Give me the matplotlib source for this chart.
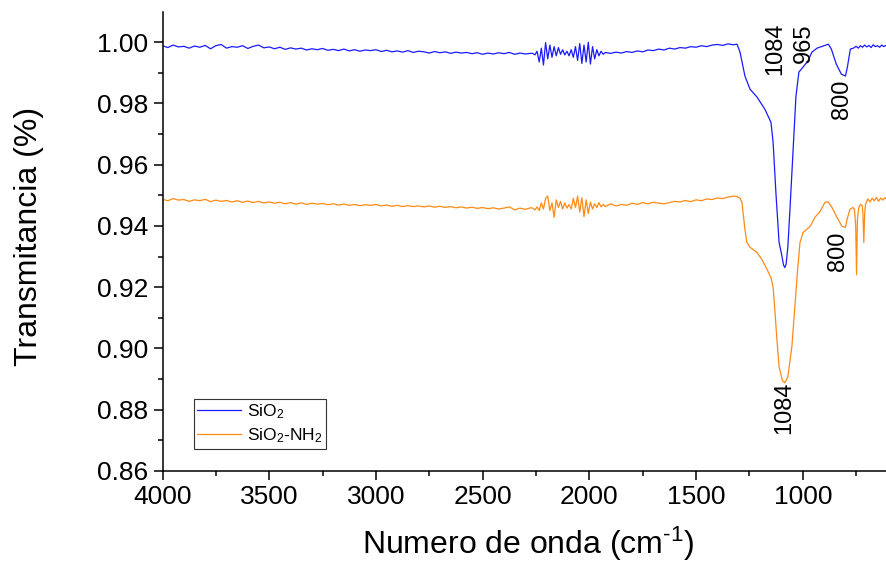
import numpy as np
import matplotlib
matplotlib.use("Agg")
import matplotlib.pyplot as plt
from matplotlib.ticker import MultipleLocator, FormatStrFormatter

plt.rcParams['font.family'] = ['Liberation Sans', 'DejaVu Sans']
plt.rcParams['mathtext.fontset'] = 'custom'
plt.rcParams['mathtext.rm'] = 'Liberation Sans'
plt.rcParams['mathtext.it'] = 'Liberation Sans:italic'
plt.rcParams['mathtext.default'] = 'regular'

# wavenumber grid of the flat part of the spectra (cm-1)
wn_high = np.arange(4000, 2274, -25)
wn_noisy = np.arange(2265, 1924, -10)
wn_mid = np.arange(1900, 1324, -25)

# Si-O band region, both samples
wn_band_sio2 = [1308, 1294, 1280, 1271, 1247, 1214, 1177, 1149, 1139, 1126, 1111,
                1100, 1090, 1084, 1078, 1070, 1060, 1046, 1032, 1018, 999, 976,
                957, 933, 905, 880, 866, 843, 819, 800, 791, 777, 763, 750, 740,
                730, 720, 710, 700, 690, 680, 670, 660, 650, 640, 630, 620, 610, 600]
wn_band_nh2 = [1308, 1294, 1285, 1271, 1262, 1247, 1214, 1191, 1167, 1149, 1139,
               1130, 1121, 1111, 1095, 1084, 1070, 1051, 1037, 1023, 1013, 999,
               966, 943, 919, 896, 882, 863, 840, 816, 800, 793, 779, 765, 758,
               752, 748, 744, 738, 730, 722, 718, 714, 710, 706, 695, 685, 675,
               665, 655, 645, 635, 625, 615, 605, 600]

# transmittance, SiO2
sio2_high = [0.9988, 0.9982, 0.9990, 0.9984, 0.9986, 0.9980, 0.9987, 0.9983, 0.9989, 0.9978,
             0.9988, 0.9992, 0.9980, 0.9985, 0.9983, 0.9988, 0.9979, 0.9986, 0.9990, 0.9981,
             0.9984, 0.9978, 0.9983, 0.9976, 0.9981, 0.9977, 0.9980, 0.9974, 0.9978, 0.9975,
             0.9979, 0.9973, 0.9976, 0.9972, 0.9977, 0.9971, 0.9975, 0.9970, 0.9974, 0.9972,
             0.9975, 0.9969, 0.9973, 0.9968, 0.9971, 0.9967, 0.9972, 0.9966, 0.9970, 0.9968,
             0.9964, 0.9969, 0.9965, 0.9968, 0.9963, 0.9967, 0.9964, 0.9966, 0.9962, 0.9965,
             0.9960, 0.9964, 0.9961, 0.9965, 0.9962, 0.9966, 0.9960, 0.9964, 0.9961, 0.9963]
sio2_noisy = [0.9963, 0.9958, 0.9970, 0.9935, 0.9980, 0.9925, 0.9998, 0.9945, 0.9990, 0.9950,
              0.9985, 0.9955, 0.9982, 0.9960, 0.9975, 0.9958, 0.9970, 0.9955, 0.9975, 0.9950,
              0.9985, 0.9940, 0.9995, 0.9930, 0.9990, 0.9935, 0.9999, 0.9928, 0.9985, 0.9945,
              0.9975, 0.9955, 0.9970, 0.9960, 0.9966]
sio2_mid = [0.9963, 0.9967, 0.9964, 0.9969, 0.9966, 0.9971, 0.9968, 0.9974, 0.9972, 0.9977,
            0.9974, 0.9980, 0.9977, 0.9982, 0.9980, 0.9985, 0.9983, 0.9988, 0.9985, 0.9990,
            0.9992, 0.9989, 0.9994, 0.9991]
sio2_band = [0.9993, 0.9967, 0.9920, 0.9889, 0.9846, 0.9820, 0.9780, 0.9738, 0.9673, 0.9510,
             0.9346, 0.9310, 0.9272, 0.9264, 0.9275, 0.9330, 0.9454, 0.9640, 0.9823, 0.9902,
             0.9918, 0.9938, 0.9967, 0.9980, 0.9987, 0.9993, 0.9977, 0.9928, 0.9895, 0.9889,
             0.9918, 0.9977, 0.9980, 0.9986, 0.9980, 0.9988, 0.9983, 0.9990, 0.9984, 0.9989,
             0.9982, 0.9991, 0.9985, 0.9988, 0.9983, 0.9990, 0.9985, 0.9989, 0.9986]

# transmittance, SiO2-NH2
nh2_high = [0.9487, 0.9482, 0.9489, 0.9484, 0.9486, 0.9480, 0.9485, 0.9482, 0.9487, 0.9479,
            0.9484, 0.9480, 0.9483, 0.9478, 0.9482, 0.9477, 0.9481, 0.9476, 0.9480, 0.9475,
            0.9478, 0.9474, 0.9477, 0.9472, 0.9476, 0.9471, 0.9475, 0.9470, 0.9474, 0.9471,
            0.9473, 0.9469, 0.9472, 0.9468, 0.9471, 0.9467, 0.9470, 0.9466, 0.9469, 0.9467,
            0.9470, 0.9465, 0.9468, 0.9464, 0.9467, 0.9463, 0.9466, 0.9463, 0.9465, 0.9462,
            0.9465, 0.9461, 0.9464, 0.9460, 0.9463, 0.9459, 0.9462, 0.9458, 0.9461, 0.9457,
            0.9460, 0.9456, 0.9459, 0.9455, 0.9458, 0.9462, 0.9452, 0.9458, 0.9454, 0.9459]
nh2_noisy = [0.9458, 0.9452, 0.9462, 0.9450, 0.9475, 0.9455, 0.9490, 0.9497, 0.9450, 0.9475,
             0.9428, 0.9485, 0.9460, 0.9480, 0.9455, 0.9475, 0.9458, 0.9470, 0.9455, 0.9490,
             0.9460, 0.9497, 0.9445, 0.9492, 0.9430, 0.9485, 0.9440, 0.9478, 0.9455, 0.9472,
             0.9460, 0.9476, 0.9462, 0.9470, 0.9463]
nh2_mid = [0.9472, 0.9465, 0.9470, 0.9467, 0.9474, 0.9470, 0.9476, 0.9472, 0.9477, 0.9474,
           0.9472, 0.9476, 0.9480, 0.9478, 0.9483, 0.9479, 0.9485, 0.9482, 0.9488, 0.9486,
           0.9491, 0.9489, 0.9494, 0.9497]
nh2_band = [0.9496, 0.9490, 0.9477, 0.9388, 0.9346, 0.9330, 0.9313, 0.9290, 0.9257, 0.9231,
            0.9200, 0.9117, 0.9028, 0.8940, 0.8895, 0.8888, 0.8907, 0.9006, 0.9137, 0.9267,
            0.9346, 0.9378, 0.9398, 0.9428, 0.9447, 0.9477, 0.9479, 0.9460, 0.9428, 0.9398,
            0.9395, 0.9420, 0.9454, 0.9460, 0.9454, 0.9400, 0.9241, 0.9420, 0.9458, 0.9470,
            0.9467, 0.9440, 0.9346, 0.9440, 0.9470, 0.9488, 0.9478, 0.9490, 0.9482, 0.9493,
            0.9480, 0.9491, 0.9484, 0.9492, 0.9485, 0.9488]

# peak labels: (text, x, y) in data units
peak_labels_sio2 = [("1084", 1128, 0.9977), ("965", 997, 0.9997), ("800", 816, 0.9814)]
peak_labels_nh2 = [("800", 835, 0.9316), ("1084", 1086, 0.8806)]


def build_spectrum(high, noisy, mid, wn_band, band):
    wn = np.concatenate([wn_high, wn_noisy, wn_mid, wn_band])
    t = np.concatenate([high, noisy, mid, band])
    return wn, t


def plot_spectra():
    fig = plt.figure(figsize=(8.86, 5.62), dpi=100)
    ax = fig.add_axes([162.5 / 886, 91 / 562, 723.5 / 886, 459 / 562])

    wn1, t1 = build_spectrum(sio2_high, sio2_noisy, sio2_mid, wn_band_sio2, sio2_band)
    wn2, t2 = build_spectrum(nh2_high, nh2_noisy, nh2_mid, wn_band_nh2, nh2_band)
    ax.plot(wn1, t1, color='#1a1aff', lw=0.9, label='SiO$_2$')
    ax.plot(wn2, t2, color='#ff8a14', lw=0.9, label='SiO$_2$-NH$_2$')

    for txt, x, y in peak_labels_sio2 + peak_labels_nh2:
        ax.text(x, y, txt, rotation=90, ha='center', va='center', fontsize=17)

    ax.set_xlim(4000, 610)
    ax.set_ylim(0.86, 1.0098)
    ax.xaxis.set_major_locator(MultipleLocator(500))
    ax.xaxis.set_minor_locator(MultipleLocator(250))
    ax.yaxis.set_major_locator(MultipleLocator(0.02))
    ax.yaxis.set_minor_locator(MultipleLocator(0.01))
    ax.yaxis.set_major_formatter(FormatStrFormatter('%.2f'))

    for side in ['top', 'right']:
        ax.spines[side].set_visible(False)
    for side in ['left', 'bottom']:
        ax.spines[side].set_linewidth(1.1)
    ax.tick_params(which='major', direction='out', length=6.5, width=1.1, labelsize=19, pad=3.5)
    ax.tick_params(which='minor', direction='out', length=3.5, width=1.1)

    ax.set_xlabel(r'Numero de onda (cm$^{\text{-}1}$)', fontsize=23, va='baseline')
    ax.xaxis.set_label_coords(0.505, -0.181)
    ax.set_ylabel('Transmitancia (%)', fontsize=23, va='center')
    ax.yaxis.set_label_coords(-0.1845, 0.51)

    leg = ax.legend(loc='lower left', bbox_to_anchor=(0.043, 0.048), borderaxespad=0,
                    fontsize=12.5, fancybox=False, framealpha=1, edgecolor='#333333',
                    handlelength=2.5, handletextpad=0.35, borderpad=0.22, labelspacing=0.3)
    leg.get_frame().set_linewidth(0.8)

    fig.savefig('out.png', dpi=100)


if __name__ == "__main__":
    plot_spectra()
